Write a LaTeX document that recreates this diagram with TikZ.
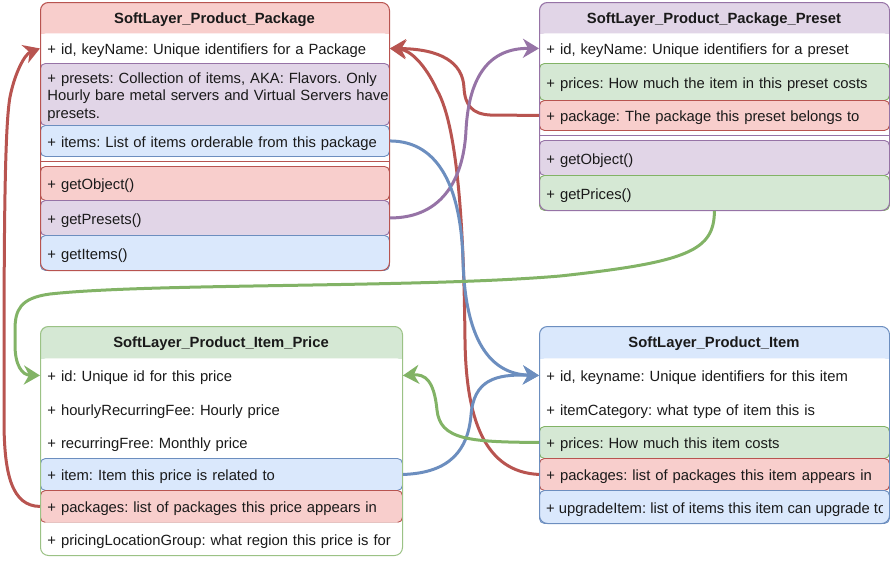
\documentclass[tikz,border=0pt]{standalone}
\usepackage{fontspec}
\setmainfont{Liberation Sans}
\usetikzlibrary{arrows.meta}
\definecolor{redF}{HTML}{F8CECC}
\definecolor{redS}{HTML}{B85450}
\definecolor{purF}{HTML}{E1D5E7}
\definecolor{purS}{HTML}{9673A6}
\definecolor{bluF}{HTML}{DAE8FC}
\definecolor{bluS}{HTML}{6C8EBF}
\definecolor{grnF}{HTML}{D5E8D4}
\definecolor{grnS}{HTML}{82B366}
\definecolor{txt}{HTML}{1A1A1A}
\frenchspacing
\begin{document}
\begin{tikzpicture}[x=1pt,y=-1pt,
  every node/.style={font=\fontsize{14.8}{17.3}\selectfont, text=txt},
  rowbox/.style={rectangle, rounded corners=5pt, anchor=north west, inner xsep=7pt, inner ysep=0pt, align=left, line width=0.9pt, text height=15pt, text depth=2pt},
  wA/.style={text width=335pt},
  wB/.style={text width=336pt},
  wC/.style={text width=348pt},
  rowred/.style={rowbox, draw=redS, fill=redF},
  rowpur/.style={rowbox, draw=purS, fill=purF},
  rowblu/.style={rowbox, draw=bluS, fill=bluF},
  rowgrn/.style={rowbox, draw=grnS, fill=grnF},
  rowwht/.style={rowbox, fill=white},
  boxframe/.style={rectangle, rounded corners=8pt, anchor=north west, inner sep=0pt, line width=1pt},
  boxtitle/.style={font=\fontsize{14.8}{17.3}\selectfont\bfseries, text height=13pt, text depth=2pt, inner sep=0pt},
  sepline/.style={line width=0.9pt},
  conn/.style={line width=3pt, -{Stealth[length=16pt,width=19pt,inset=5pt]}}
]
\useasboundingbox (0,0) rectangle (890,560);

% ===== Box 1: SoftLayer_Product_Package =====
\begin{scope}
  \clip (40,2) rectangle (389,33);
  \fill[redF, rounded corners=8pt] (40,2) rectangle (389,50);
\end{scope}
\node[boxtitle] (pkgT) at (214.5,17.5) {SoftLayer\_Product\_Package};
\node[rowwht, wA, minimum height=30pt] (pkgId) at (40,33) {+ id, keyName: Unique identifiers for a Package};
\node[rowpur, wA, minimum height=62pt, text height=15pt, text depth=36.6pt] (pkgPresets) at (40,63) {\mbox{+ presets: Collection of items, AKA: Flavors. Only}\\\mbox{Hourly bare metal servers and Virtual Servers have}\\\mbox{presets.}};
\node[rowblu, wA, minimum height=31pt] (pkgItems) at (40,125) {+ items: List of items orderable from this package};
\draw[sepline, redS] (40,161) -- (389,161);
\node[rowred, wA, minimum height=34pt] (pkgGetObject) at (40,166) {+ getObject()};
\node[rowpur, wA, minimum height=35pt] (pkgGetPresets) at (40,200) {+ getPresets()};
\node[rowblu, wA, minimum height=35pt] (pkgGetItems) at (40,235) {+ getItems()};
\node[boxframe, draw=redS, minimum width=349pt, minimum height=268pt] (pkg) at (40,2) {};

% ===== Box 2: SoftLayer_Product_Package_Preset =====
\begin{scope}
  \clip (539,2) rectangle (889,33);
  \fill[purF, rounded corners=8pt] (539,2) rectangle (889,50);
\end{scope}
\node[boxtitle] (preT) at (714,17.5) {SoftLayer\_Product\_Package\_Preset};
\node[rowwht, wB, minimum height=30pt] (preId) at (539,33) {+ id, keyName: Unique identifiers for a preset};
\node[rowgrn, wB, minimum height=37pt] (prePrices) at (539,63) {+ prices: How much the item in this preset costs};
\node[rowred, wB, minimum height=30pt] (prePkg) at (539,100) {+ package: The package this preset belongs to};
\draw[sepline, purS] (539,135) -- (889,135);
\node[rowpur, wB, minimum height=35pt] (preGetObject) at (539,140) {+ getObject()};
\node[rowgrn, wB, minimum height=35pt] (preGetPrices) at (539,175) {+ getPrices()};
\node[boxframe, draw=purS, minimum width=350pt, minimum height=208pt] (pre) at (539,2) {};

% ===== Box 3: SoftLayer_Product_Item_Price =====
\begin{scope}
  \clip (40,326) rectangle (402,358);
  \fill[grnF, rounded corners=8pt] (40,326) rectangle (402,370);
\end{scope}
\node[boxtitle] (ipT) at (221,342) {SoftLayer\_Product\_Item\_Price};
\node[rowwht, wC, minimum height=34pt] (ipId) at (40,358) {+ id: Unique id for this price};
\node[rowwht, wC, minimum height=33pt] (ipHourly) at (40,392) {+ hourlyRecurringFee: Hourly price};
\node[rowwht, wC, minimum height=33pt] (ipRecurring) at (40,425) {+ recurringFree: Monthly price};
\node[rowblu, wC, minimum height=32pt] (ipItem) at (40,458) {+ item: Item this price is related to};
\node[rowred, wC, minimum height=32pt] (ipPkgs) at (40,490) {+ packages: list of packages this price appears in};
\node[rowwht, wC, minimum height=33pt] (ipLoc) at (40,522) {+ pricingLocationGroup: what region this price is for};
\node[boxframe, draw=grnS!80, minimum width=362pt, minimum height=229pt] (ip) at (40,326) {};

% ===== Box 4: SoftLayer_Product_Item =====
\begin{scope}
  \clip (539,326) rectangle (889,358);
  \fill[bluF, rounded corners=8pt] (539,326) rectangle (889,370);
\end{scope}
\node[boxtitle] (itT) at (714,342) {SoftLayer\_Product\_Item};
\node[rowwht, wB, minimum height=34pt] (itId) at (539,358) {+ id, keyname: Unique identifiers for this item};
\node[rowwht, wB, minimum height=34pt] (itCat) at (539,392) {+ itemCategory: what type of item this is};
\node[rowgrn, wB, minimum height=32pt] (itPrices) at (539,426) {+ prices: How much this item costs};
\node[rowred, wB, minimum height=32pt] (itPkgs) at (539,458) {+ packages: list of packages this item appears in};
\node[rowblu, wB, minimum height=33pt] (itUpgrade) at (539,490) {};
\begin{scope}
  \clip (539,490) rectangle (882,523);
  \node[anchor=base west, inner sep=0pt] (itUpgradeT) at ([xshift=7pt,yshift=-6.5pt]itUpgrade.west) {+ upgradeItem: list of items this item can upgrade to};
\end{scope}
\node[boxframe, draw=bluS, minimum width=350pt, minimum height=197pt] (it) at (539,326) {};

% ===== Connectors =====
% Item_Price.packages -> Package.id (left)
\draw[conn, redS] (ipPkgs.west) .. controls (12,506) and (4,475) .. (4,420)
  .. controls (4,260) and (4,130) .. (10,97)
  .. controls (15,72) and (25,54) .. (pkgId.west);
% Item.packages -> Package.id (right)
\draw[conn, redS] (itPkgs.west) .. controls (485,472) and (466,420) .. (465,340)
  .. controls (464,250) and (460,130) .. (437,90)
  .. controls (425,64) and (410,50) .. (pkgId.east);
% Preset.package -> Package.id (right)
\draw[conn, redS] (prePkg.west) -- (490,115) .. controls (472,114) and (465,105) .. (464,88)
  .. controls (463,62) and (440,49) .. (pkgId.east);
% Package.getPresets -> Preset.id
\draw[conn, purS] (pkgGetPresets.east) .. controls (445,218) and (464,175) .. (466,130)
  .. controls (469,75) and (490,48) .. (preId.west);
% Package.items -> Item.id
\draw[conn, bluS] (pkgItems.east) .. controls (440,141) and (461,190) .. (463,260)
  .. controls (465,340) and (490,374) .. (itId.west);
% Item_Price.item -> Item.id
\draw[conn, bluS] (ipItem.east) .. controls (450,473) and (468,450) .. (471,415)
  .. controls (474,380) and (495,374) .. (itId.west);
% Item.prices -> Item_Price.id
\draw[conn, grnS] (itPrices.west) .. controls (470,442) and (440,440) .. (437,410)
  .. controls (434,380) and (425,374) .. (ipId.east);
% Preset.getPrices -> Item_Price.id
\draw[conn, grnS] (preGetPrices.south) .. controls (714,250) and (690,262) .. (560,276)
  .. controls (420,288) and (150,283) .. (50,294)
  .. controls (20,298) and (15,310) .. (15,330) -- (15,345)
  .. controls (15,365) and (22,375) .. (ipId.west);
\end{tikzpicture}
\end{document}
